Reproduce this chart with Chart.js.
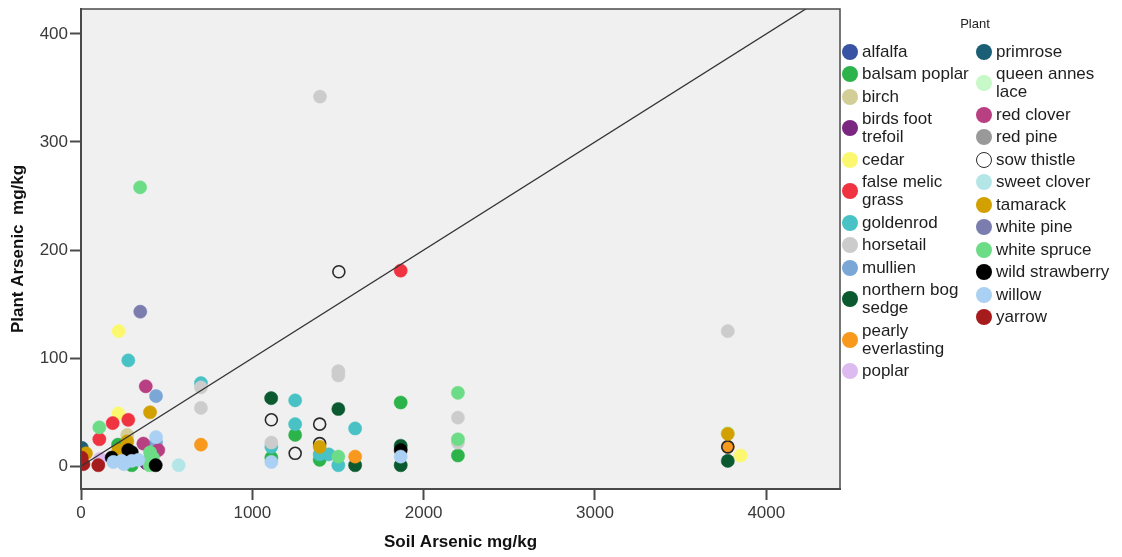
<!DOCTYPE html>
<html>
<head>
<meta charset="utf-8">
<script src="https://cdn.jsdelivr.net/npm/chart.js@4/dist/chart.umd.min.js"></script>
<style>
  html, body { margin: 0; padding: 0; background: #ffffff; }
  #wrap { position: relative; width: 1122px; height: 557px; overflow: hidden; font-family: "Liberation Sans", Arial, sans-serif; }
  #c { position: absolute; left: 0; top: 0; }
  #legTitle { position: absolute; left: 935px; width: 80px; top: 16px; text-align: center; font-size: 13px; color: #222; line-height: 16px; }
  .col { position: absolute; top: 42.7px; display: flex; flex-direction: column; }
  .item { display: flex; align-items: center; margin-bottom: 4.5px; }
  .mk { width: 16px; height: 16px; border-radius: 50%; flex: 0 0 16px; box-sizing: border-box; }
  .tx { margin-left: 4px; font-size: 17px; line-height: 18px; color: #1e1e1e; }
</style>
</head>
<body>
<div id="wrap">
  <canvas id="c" width="1122" height="557"></canvas>
  <div id="legTitle">Plant</div>
  <div class="col" id="col1" style="left:842px"></div>
  <div class="col" id="col2" style="left:976px"></div>
</div>
<script>
// ---- Data: [soil arsenic mg/kg, plant arsenic mg/kg] per plant ----
const plantNames = ["alfalfa","balsam poplar","birch","birds foot trefoil","cedar","false melic grass","goldenrod","horsetail","mullien","northern bog sedge","pearly everlasting","poplar","primrose","queen annes lace","red clover","red pine","sow thistle","sweet clover","tamarack","white pine","white spruce","wild strawberry","willow","yarrow"];
const plantColors = ["#3953a4","#2cb34a","#d3ce97","#7b2782","#fbf86f","#ef3340","#48c2c5","#cccccc","#7ba7d7","#0b5a2f","#f8981d","#ddbaf0","#1a5f76","#c7f8c7","#b83f81","#999999","none","#b5e6e7","#d2a000","#7b7daf","#6cdc87","#000000","#aad0f3","#a61c1d"];

const alfalfa = [[250,3]];
const balsamPoplar = [[1111,8],[1250,29],[1393,6],[1866,59],[2200,10],[216,20],[296,1]];
const birch = [[270,29]];
const birdsFootTrefoil = [[380,3]];
const cedar = [[220,125],[218,49],[3850,10]];
const falseMelicGrass = [[1866,181],[185,40],[276,43],[107,25]];
const goldenrod = [[276,98],[700,77],[1250,61],[1111,18],[1250,39],[1393,11],[1446,11],[1502,1],[1600,35]];
const horsetail = [[1395,342],[1502,88],[1502,84],[700,73],[700,54],[1111,22],[2200,45],[2200,22],[3775,125]];
const mullien = [[438,65],[438,22]];
const northernBogSedge = [[1110,63],[1502,53],[1600,1],[1866,19],[1866,1],[3775,5]];
const pearlyEverlasting = [[700,20],[1600,9],[3775,18]];
const poplar = [[111,7]];
const primrose = [[5,17]];
const queenAnnesLace = [[3775,31]];
const redClover = [[378,74],[364,21],[451,15]];
const redPine = [[400,2]];
const sowThistle = [[1505,180],[1111,43],[1250,12],[1393,39],[1393,21],[3775,18]];
const sweetClover = [[570,1]];
const tamarack = [[403,50],[270,23],[218,15],[29,12],[1393,18],[3775,30]];
const whitePine = [[346,143]];
const whiteSpruce = [[345,258],[2200,68],[2200,25],[1502,9],[107,36],[403,13],[393,5],[400,1],[420,8]];
const wildStrawberry = [[436,1],[276,15],[296,13],[179,8],[1866,15]];
const willow = [[1111,4],[1866,9],[438,27],[189,4],[237,5],[296,5],[335,6],[250,2]];
const yarrow = [[4,8],[14,2],[101,1]];

const plantSeries = [alfalfa,balsamPoplar,birch,birdsFootTrefoil,cedar,falseMelicGrass,goldenrod,horsetail,mullien,northernBogSedge,pearlyEverlasting,poplar,primrose,queenAnnesLace,redClover,redPine,sowThistle,sweetClover,tamarack,whitePine,whiteSpruce,wildStrawberry,willow,yarrow];

const xTicks = [0,1000,2000,3000,4000];
const yTicks = [0,100,200,300,400];
const refSlope = 0.1; // reference line y = 0.1 x
const xRange = [0,4430];
const yRange = [-21,423];

// ---- Chart ----
const FONT = "'Liberation Sans', Arial, sans-serif";
const n = plantNames.length;
const datasets = plantNames.map((name, i) => {
  const hollow = plantColors[i] === "none";
  return {
    type: 'scatter',
    label: name,
    data: plantSeries[i].map(p => ({x: p[0], y: p[1]})),
    pointRadius: hollow ? 6 : 6.6,
    pointBackgroundColor: hollow ? 'rgba(0,0,0,0)' : plantColors[i],
    pointBorderColor: hollow ? '#2a2a2a' : plantColors[i],
    pointBorderWidth: hollow ? 1.6 : 0.5,
    order: n - i
  };
});
datasets.push({
  type: 'line',
  label: 'ref',
  data: [{x: xRange[0], y: refSlope * xRange[0]}, {x: xRange[1], y: refSlope * xRange[1]}],
  borderColor: '#333333',
  borderWidth: 1.3,
  pointRadius: 0,
  fill: false,
  order: -1
});

const bgPlugin = {
  id: 'bg',
  beforeDraw(chart) {
    const {ctx, chartArea: a} = chart;
    ctx.save();
    ctx.fillStyle = '#f0f0f0';
    ctx.fillRect(a.left, a.top, a.right - a.left, a.bottom - a.top);
    ctx.restore();
  },
  afterDraw(chart) {
    const {ctx, chartArea: a} = chart;
    ctx.save();
    ctx.strokeStyle = '#4a4a4a';
    ctx.lineWidth = 1.5;
    ctx.strokeRect(a.left, a.top, a.right - a.left, a.bottom - a.top);
    ctx.restore();
  }
};

new Chart(document.getElementById('c'), {
  type: 'scatter',
  data: { datasets },
  plugins: [bgPlugin],
  options: {
    responsive: false,
    animation: false,
    events: [],
    layout: { padding: { left: 0, right: 282, top: 9, bottom: 0 } },
    plugins: { legend: { display: false }, tooltip: { enabled: false } },
    scales: {
      x: {
        type: 'linear', min: xRange[0], max: xRange[1],
        afterBuildTicks: ax => { ax.ticks = xTicks.map(v => ({value: v})); },
        afterFit: ax => { ax.height = 68; ax.paddingLeft = 0; ax.paddingRight = 0; },
        grid: { display: true, drawOnChartArea: false, drawTicks: true, tickLength: 11, tickColor: '#4a4a4a', tickWidth: 2 },
        border: { display: true, color: '#4a4a4a', width: 2 },
        ticks: { color: '#3a3a3a', font: { family: FONT, size: 17 }, padding: 3, maxRotation: 0, callback: v => String(v) },
        title: { display: true, text: 'Soil Arsenic mg/kg', color: '#111', font: { family: FONT, size: 17, weight: 'bold' }, padding: { top: 0, bottom: 4 } }
      },
      y: {
        type: 'linear', min: yRange[0], max: yRange[1],
        afterBuildTicks: ax => { ax.ticks = yTicks.map(v => ({value: v})); },
        afterFit: ax => { ax.width = 81; ax.paddingTop = 0; ax.paddingBottom = 0; },
        grid: { display: true, drawOnChartArea: false, drawTicks: true, tickLength: 11, tickColor: '#4a4a4a', tickWidth: 2 },
        border: { display: true, color: '#4a4a4a', width: 2 },
        ticks: { color: '#3a3a3a', font: { family: FONT, size: 17 }, padding: 2, callback: v => String(v) },
        title: { display: true, text: 'Plant Arsenic  mg/kg', color: '#111', font: { family: FONT, size: 17, weight: 'bold' }, padding: { top: 8, bottom: 0 } }
      }
    }
  }
});

// ---- HTML legend (two columns, like the reference) ----
const split = 12;
function addItem(col, i) {
  const it = document.createElement('div');
  it.className = 'item';
  const mk = document.createElement('div');
  mk.className = 'mk';
  if (plantColors[i] === 'none') {
    mk.style.border = '1.6px solid #2a2a2a';
    mk.style.background = '#ffffff';
  } else {
    mk.style.background = plantColors[i];
  }
  const tx = document.createElement('div');
  tx.className = 'tx';
  tx.style.width = (col.id === 'col1' ? 112 : 118) + 'px';
  tx.textContent = plantNames[i];
  it.appendChild(mk); it.appendChild(tx);
  col.appendChild(it);
}
const c1 = document.getElementById('col1'), c2 = document.getElementById('col2');
plantNames.forEach((_, i) => addItem(i < split ? c1 : c2, i));
</script>
</body>
</html>
